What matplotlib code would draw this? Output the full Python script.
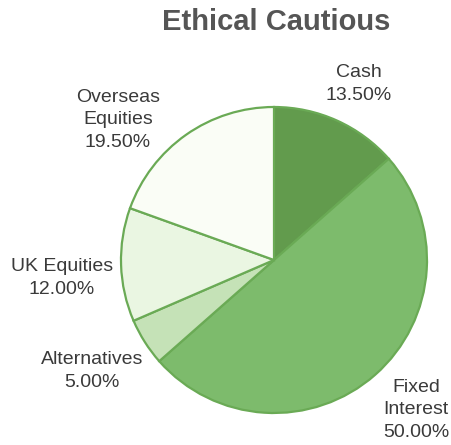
import matplotlib.pyplot as plt

# allocation data
categories = ['Cash', 'Fixed\nInterest', 'Alternatives', 'UK Equities', 'Overseas\nEquities']
shares = [13.5, 50.0, 5.0, 12.0, 19.5]

colors = ['#629b4d', '#7dbb6c', '#c5e2b7', '#eaf6e2', '#fafdf6']
edge_color = '#6aaa55'

# label block centres in pixel space (x, y from top)
label_pos = [(359, 84), (416, 410), (92, 371), (62, 278), (118, 120)]

W, H = 451, 445
fig = plt.figure(figsize=(W / 100, H / 100), dpi=100)
ax = fig.add_axes([0, 0, 1, 1])
ax.axis('off')

ax.pie(shares, colors=colors, startangle=90, counterclock=False,
       center=(274, H - 260), radius=153,
       wedgeprops=dict(edgecolor=edge_color, linewidth=1.6))
ax.set_xlim(0, W)
ax.set_ylim(0, H)
ax.set_aspect('equal')

for name, val, (x, y) in zip(categories, shares, label_pos):
    ax.text(x, H - y, f'{name}\n{val:.2f}%', ha='center', va='center',
            fontsize=14, color='#3a3a3a', family='Liberation Sans',
            linespacing=1.4)

ax.text(276, H - 22, 'Ethical Cautious', ha='center', va='center',
        fontsize=21, fontweight='bold', color='#555555', family='Liberation Sans')

fig.savefig('out.png', dpi=100)
